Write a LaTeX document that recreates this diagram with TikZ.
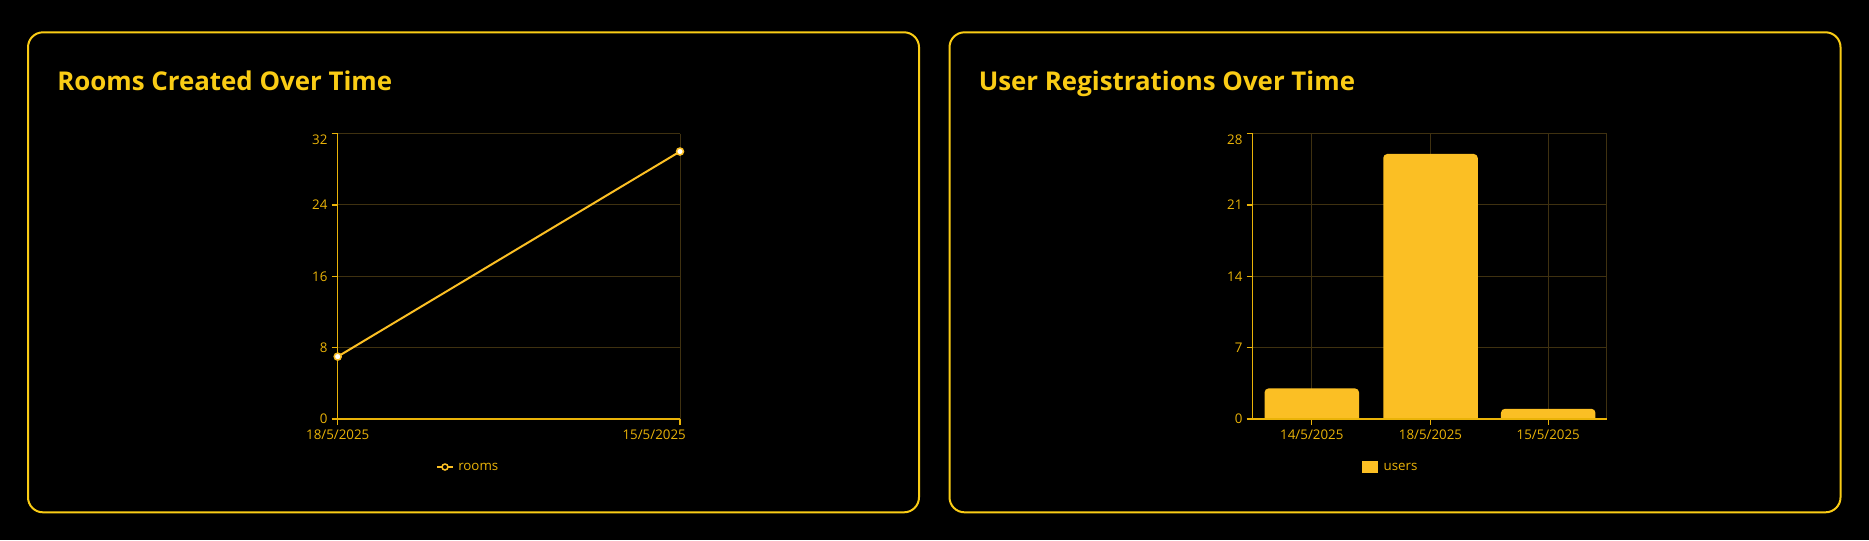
\documentclass[tikz,border=0pt]{standalone}
\usepackage{fontspec}
\setmainfont{Open Sans}
\usepackage{xcolor}
\usepackage{tikz}
\usetikzlibrary{positioning}
\definecolor{panelline}{HTML}{FACC15}
\definecolor{axisline}{HTML}{EAB308}
\definecolor{seriesfill}{HTML}{FBBF24}
\definecolor{gridline}{HTML}{3F3110}
\newdimen\pxu \pxu=0.75pt

\begin{document}
\begin{tikzpicture}[x=0.75pt, y=-0.75pt]
    % Define styles
    \tikzstyle{panel} = [rectangle, rounded corners=15\pxu, minimum width=891\pxu, minimum height=480\pxu, draw=panelline, line width=2\pxu]
    \tikzstyle{heading} = [anchor=base west, inner sep=0pt, text=panelline, font=\fontsize{19.4}{23}\selectfont\bfseries]
    \tikzstyle{ticklabel} = [inner sep=0pt, text=axisline, font=\fontsize{10}{12}\selectfont]
    \tikzstyle{gridrule} = [draw=gridline, line width=1\pxu]
    \tikzstyle{axis} = [draw=axisline, line width=1.3\pxu]
    \tikzstyle{series} = [draw=seriesfill, line width=2\pxu]
    \tikzstyle{dot} = [circle, fill=white, draw=seriesfill, line width=1.5\pxu, minimum size=7\pxu, inner sep=0pt]
    \tikzstyle{bar} = [fill=seriesfill, rounded corners=4\pxu]

    % Background
    \fill[black] (0,0) rectangle (1869,540);
    \useasboundingbox (0,0) rectangle (1869,540);

    % Panels
    \node (roomsbox) [panel] at (473.5,272.3) {};
    \node (usersbox) [panel] at (1395,272.3) {};
    \node (roomstitle) [heading, xshift=30\pxu, yshift=-59\pxu] at (roomsbox.north west) {Rooms Created Over Time};
    \node (userstitle) [heading, xshift=30\pxu, yshift=-59\pxu] at (usersbox.north west) {User Registrations Over Time};

    % Rooms chart
    \foreach \v in {8,16,24,32}
        \draw[gridrule] (337.7,{419-\v*8.919}) -- (680,{419-\v*8.919});
    \draw[gridrule] (680,133.6) -- (680,419);
    \foreach \v in {0,8,16,24} {
        \draw[axis] (331.7,{419-\v*8.919}) -- (337.7,{419-\v*8.919});
        \node (roomsy\v) [ticklabel, anchor=east] at (327.7,{419-\v*8.919}) {\v};
    }
    \draw[axis] (331.7,133.6) -- (337.7,133.6);
    \node (roomsy32) [ticklabel, anchor=east] at (327.7,139.3) {32};
    \draw[axis] (337.7,133.6) -- (337.7,419) -- (680,419);
    \draw[axis] (337.7,419) -- (337.7,425);
    \draw[axis] (680,419) -- (680,425);
    \node (roomsx1) [ticklabel, anchor=north] at (337.7,429.5) {18/5/2025};
    \node (roomsx2) [ticklabel, anchor=north east] at (686,429.5) {15/5/2025};

    \coordinate (roomsp1) at (337.7,356.6);
    \coordinate (roomsp2) at (680,151.5);
    \draw[series] (roomsp1) -- (roomsp2);
    \node (roomsdot1) [dot] at (roomsp1) {};
    \node (roomsdot2) [dot] at (roomsp2) {};

    \node (roomslegend) [ticklabel, anchor=west] at (458,467) {rooms};
    \coordinate (roomskey) at (437,467);
    \draw[series] (roomskey) -- ++(16,0);
    \node (roomskeydot) [dot, fill=black, minimum size=6\pxu] at (445,467) {};

    % Users chart
    \foreach \v in {7,14,21,28}
        \draw[gridrule] (1252.7,{419-\v*10.193}) -- (1606.7,{419-\v*10.193});
    \foreach \c in {1311.8,1430.5,1548.2,1606.7}
        \draw[gridrule] (\c,133.6) -- (\c,419);
    \foreach \c/\v in {1311.8/3, 1430.5/26, 1548.2/1}
        \fill[bar] ({\c-47.25},419) -- ({\c-47.25},{419-\v*10.193}) -- ({\c+47.25},{419-\v*10.193}) -- ({\c+47.25},419);
    \foreach \v in {0,7,14,21} {
        \draw[axis] (1246.7,{419-\v*10.193}) -- (1252.7,{419-\v*10.193});
        \node (usersy\v) [ticklabel, anchor=east] at (1242.7,{419-\v*10.193}) {\v};
    }
    \draw[axis] (1246.7,133.6) -- (1252.7,133.6);
    \node (usersy28) [ticklabel, anchor=east] at (1242.7,139.3) {28};
    \draw[axis] (1252.7,133.6) -- (1252.7,419) -- (1606.7,419);
    \foreach \c/\lab [count=\i] in {1311.8/{14/5/2025}, 1430.5/{18/5/2025}, 1548.2/{15/5/2025}} {
        \draw[axis] (\c,419) -- (\c,425);
        \node (usersx\i) [ticklabel, anchor=north] at (\c,429.5) {\lab};
    }

    \node (userslegend) [ticklabel, anchor=west] at (1383.3,467) {users};
    \fill[seriesfill] (1362,461) rectangle (1378,472.5);
\end{tikzpicture}
\end{document}
